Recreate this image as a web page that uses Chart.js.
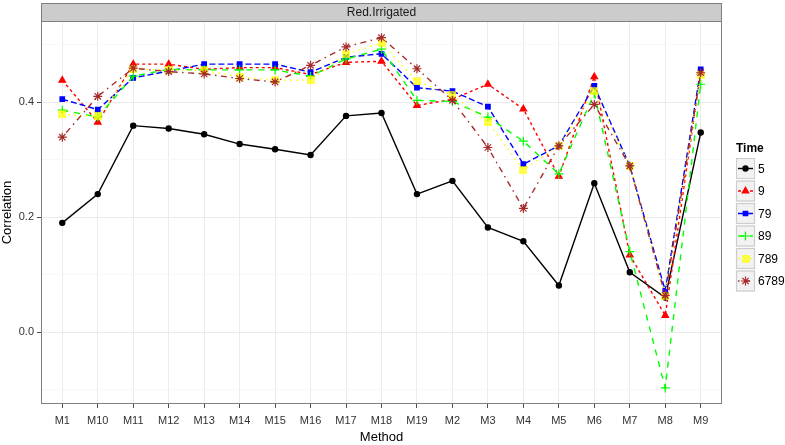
<!DOCTYPE html>
<html>
<head>
<meta charset="utf-8">
<script src="https://cdn.jsdelivr.net/npm/chart.js@4.4.1/dist/chart.umd.min.js"></script>
<style>
  html, body { margin: 0; padding: 0; background: #fff; }
  #wrap { width: 785px; height: 445px; }
</style>
</head>
<body>
<div id="wrap"><canvas id="chart" width="785" height="445"></canvas></div>
<script>
// categorias del eje x
const methods = ["M1","M10","M11","M12","M13","M14","M15","M16","M17","M18","M19","M2","M3","M4","M5","M6","M7","M8","M9"];

// valores (Correlation por Time)
const time5    = [0.190,0.240,0.359,0.354,0.344,0.327,0.318,0.308,0.376,0.381,0.240,0.263,0.182,0.158,0.081,0.259,0.104,0.060,0.347];
const time9    = [0.438,0.365,0.466,0.466,0.457,0.460,0.460,0.448,0.469,0.471,0.394,0.405,0.431,0.388,0.271,0.444,0.134,0.029,0.452];
const time79   = [0.405,0.387,0.442,0.454,0.466,0.466,0.466,0.452,0.478,0.484,0.425,0.419,0.392,0.292,0.324,0.428,0.289,0.072,0.457];
const time89   = [0.386,0.374,0.445,0.457,0.456,0.456,0.456,0.445,0.475,0.492,0.403,0.401,0.374,0.332,0.275,0.415,0.140,-0.097,0.431];
const time789  = [0.379,0.375,0.457,0.456,0.455,0.444,0.438,0.438,0.483,0.503,0.436,0.412,0.365,0.282,0.324,0.419,0.288,0.062,0.447];
const time6789 = [0.339,0.410,0.459,0.453,0.449,0.441,0.435,0.464,0.496,0.512,0.458,0.403,0.321,0.215,0.324,0.396,0.289,0.064,0.451];

const seriesNames = ["5","9","79","89","789","6789"];
const seriesValues = [time5, time9, time79, time89, time789, time6789];

// marcas del eje y
const yTicks = [-0.1, 0.0, 0.1, 0.2, 0.3, 0.4, 0.5];
const yLabeled = [0.0, 0.2, 0.4];

const FONT = "'Liberation Sans', Arial, sans-serif";

// cuadrado con X para la serie 789
function squareX(color) {
    const c = document.createElement("canvas");
    c.width = 8; c.height = 8;
    const g = c.getContext("2d");
    g.strokeStyle = color;
    g.lineWidth = 1.3;
    g.strokeRect(1, 1, 6, 6);
    g.beginPath();
    g.moveTo(1, 1); g.lineTo(7, 7);
    g.moveTo(7, 1); g.lineTo(1, 7);
    g.stroke();
    return c;
}

const styles = [
    { color: "#000000", dash: [], point: "circle", radius: 2.6, fill: true },
    { color: "#ff0000", dash: [3, 3], point: "triangle", radius: 3.8, fill: true },
    { color: "#0000ff", dash: [6, 3], point: "rect", radius: 3.2, fill: true },
    { color: "#00ff00", dash: [6, 6], point: "cross", radius: 4.5, fill: false },
    { color: "#ffff00", dash: [1.5, 4.5], point: squareX("#ffff00"), radius: 4, fill: false },
    { color: "#a52a2a", dash: [1.5, 4.5, 6, 4.5], point: "star", radius: 4.5, fill: false },
];

const datasets = seriesValues.map((vals, s) => ({
    label: seriesNames[s],
    data: vals.map((v, i) => ({ x: i, y: v })),
    borderColor: styles[s].color,
    backgroundColor: styles[s].color,
    borderWidth: 1.4,
    borderDash: styles[s].dash,
    pointStyle: styles[s].point,
    pointRadius: styles[s].radius,
    pointBorderWidth: 1.2,
    pointBorderColor: styles[s].color,
    pointBackgroundColor: styles[s].color,
    tension: 0,
    order: seriesNames.length - s,
}));

// franja superior, borde del panel y leyenda estilo ggplot
const decor = {
    id: "decor",
    afterDraw(chart) {
        const ctx = chart.ctx;
        const a = chart.chartArea;
        ctx.save();
        // franja del titulo
        ctx.fillStyle = "#cccccc";
        ctx.fillRect(a.left, 3, a.right - a.left, a.top - 3);
        ctx.strokeStyle = "#7f7f7f";
        ctx.lineWidth = 1;
        ctx.strokeRect(a.left + 0.5, 3.5, a.right - a.left - 1, a.top - 3);
        ctx.fillStyle = "#1a1a1a";
        ctx.font = "12px " + FONT;
        ctx.textAlign = "center";
        ctx.textBaseline = "middle";
        ctx.fillText("Red.Irrigated", (a.left + a.right) / 2, (a.top + 3) / 2 + 1);
        // borde del panel
        ctx.strokeStyle = "#7f7f7f";
        ctx.strokeRect(a.left + 0.5, a.top + 0.5, a.right - a.left - 1, a.bottom - a.top - 1);

        // leyenda
        const lx = 736, ly = 158, kw = 19, kh = 21;
        ctx.fillStyle = "#000";
        ctx.font = "bold 12px " + FONT;
        ctx.textAlign = "left";
        ctx.textBaseline = "middle";
        ctx.fillText("Time", lx, 149);
        ctx.font = "12px " + FONT;
        seriesNames.forEach((name, s) => {
            const y = ly + s * (kh + 1.5);
            ctx.fillStyle = "#f2f2f2";
            ctx.fillRect(lx, y, kw, kh);
            ctx.strokeStyle = "#cccccc";
            ctx.setLineDash([]);
            ctx.strokeRect(lx + 0.5, y + 0.5, kw - 1, kh - 1);
            const cy = y + kh / 2;
            ctx.strokeStyle = styles[s].color;
            ctx.lineWidth = 1.4;
            ctx.setLineDash(styles[s].dash);
            ctx.beginPath();
            ctx.moveTo(lx + 2, cy);
            ctx.lineTo(lx + kw - 2, cy);
            ctx.stroke();
            ctx.setLineDash([]);
            ctx.fillStyle = styles[s].color;
            ctx.lineWidth = 1.2;
            Chart.helpers.drawPoint(ctx, {
                pointStyle: styles[s].point,
                radius: styles[s].radius,
                rotation: 0,
                borderWidth: 1.2,
            }, lx + kw / 2, cy);
            if (styles[s].fill) ctx.fill();
            ctx.fillStyle = "#000";
            ctx.fillText(name, lx + kw + 3, cy + 1);
        });
        ctx.restore();
    },
};

new Chart(document.getElementById("chart"), {
    type: "line",
    data: { datasets },
    options: {
        responsive: false,
        animation: false,
        layout: { padding: { left: 0, right: 63, top: 21, bottom: 0 } },
        plugins: { legend: { display: false }, tooltip: { enabled: false } },
        scales: {
            x: {
                type: "linear",
                min: -0.6,
                max: methods.length - 1 + 0.6,
                afterBuildTicks: (sc) => { sc.ticks = methods.map((m, i) => ({ value: i })); },
                afterFit: (sc) => { sc.height = 41; },
                ticks: {
                    callback: (v) => methods[v],
                    color: "#333333",
                    font: { family: FONT, size: 11 },
                    padding: 6,
                    maxRotation: 0,
                    autoSkip: false,
                },
                grid: { color: "#ebebeb", lineWidth: 1, tickLength: 4, tickColor: "#4d4d4d" },
                border: { display: false },
                title: {
                    display: true, text: "Method", color: "#000",
                    font: { family: FONT, size: 13 }, padding: { top: 0, bottom: 0 },
                },
            },
            y: {
                min: -0.125,
                max: 0.541,
                afterBuildTicks: (sc) => { sc.ticks = yTicks.map((v) => ({ value: v })); },
                afterFit: (sc) => { sc.width = 41; },
                ticks: {
                    callback: (v) => yLabeled.some((t) => Math.abs(t - v) < 1e-9) ? v.toFixed(1) : "",
                    color: "#333333",
                    font: { family: FONT, size: 11 },
                    padding: 3,
                },
                grid: {
                    color: (c) => yLabeled.some((t) => Math.abs(t - c.tick.value) < 1e-9) ? "#ebebeb" : "#f7f7f7",
                    tickColor: (c) => yLabeled.some((t) => Math.abs(t - c.tick.value) < 1e-9) ? "#4d4d4d" : "rgba(0,0,0,0)",
                    tickLength: 4,
                },
                border: { display: false },
                title: {
                    display: true, text: "Correlation", color: "#000",
                    font: { family: FONT, size: 13 }, padding: { top: 0, bottom: 2 },
                },
            },
        },
    },
    plugins: [decor],
});
</script>
</body>
</html>
